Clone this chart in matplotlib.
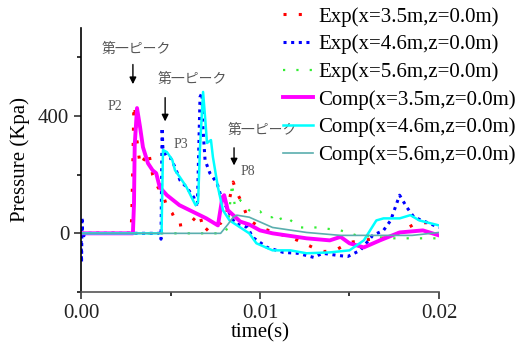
import matplotlib
matplotlib.use('Agg')
import matplotlib.pyplot as plt
from matplotlib.ticker import MultipleLocator, FormatStrFormatter

plt.rcParams['font.family'] = ['Liberation Serif', 'Noto Sans CJK JP']

# Exp (x=3.5m)
t_exp35 = [0, 0.0028, 0.00285, 0.0029, 0.00295, 0.0030, 0.00305, 0.0031, 0.0033, 0.0035,
           0.0037, 0.0038, 0.0040, 0.0043, 0.0046, 0.0048, 0.0051, 0.0054, 0.0061, 0.0066,
           0.0069, 0.0073, 0.0078, 0.0081, 0.0085, 0.0087, 0.0090, 0.0093, 0.0096, 0.0100,
           0.0108, 0.0117, 0.0121, 0.0132, 0.0136, 0.0142, 0.0150, 0.0162, 0.0173, 0.0187,
           0.0195, 0.0200]
p_exp35 = [0, 0, 100, 250, 430, 437, 376, 330, 232, 250,
           277, 270, 200, 157, 130, 89, 68, 27, 34, 68,
           5, 30, 34, 60, 175, 140, 103, 55, 37, 20,
           3, -14, -24, -55, -62, -58, -31, -20, -14, 34,
           37, 30]

# Exp (x=4.6m)
t_exp46 = [0, 0.00003, 0.00006, 0.0001, 0.0002, 0.0044, 0.00447, 0.00453, 0.00458, 0.0048,
           0.0050, 0.00525, 0.00553, 0.0059, 0.0063, 0.0065, 0.00665, 0.00676, 0.00682, 0.00693,
           0.0072, 0.0076, 0.0078, 0.0082, 0.0086, 0.0093, 0.0096, 0.0104, 0.0113, 0.0121,
           0.0130, 0.0135, 0.0143, 0.0149, 0.0156, 0.0163, 0.0169, 0.0173, 0.0177, 0.0178,
           0.0182, 0.0186, 0.0193, 0.0200]
p_exp46 = [0, -100, 55, -20, 0, 0, -20, 360, 284, 260,
           257, 226, 181, 157, 123, 89, 465, 479, 352, 250,
           205, 171, 130, 79, 34, 20, -14, -48, -65, -68,
           -82, -68, -75, -79, -58, -7, 10, 44, 113, 130,
           89, 55, 38, 20]

# Exp (x=5.6m)
t_exp56 = [0, 0.0080, 0.0082, 0.00844, 0.0086, 0.0089, 0.0092, 0.0096, 0.0100, 0.0103,
           0.0107, 0.0110, 0.0112, 0.0115, 0.0122, 0.0132, 0.0145, 0.0154, 0.0173, 0.0191,
           0.0200]
p_exp56 = [0, 0, 20, 171, 89, 113, 89, 68, 75, 55,
           55, 68, 45, 55, 20, 20, 10, -7, -17, -17,
           -17]

# Comp (x=3.5m)
t_comp35 = [0, 0.0029, 0.00296, 0.0030, 0.00313, 0.0033, 0.00346, 0.00374, 0.0040, 0.0042,
            0.0044, 0.0048, 0.0055, 0.0063, 0.0070, 0.00765, 0.0079, 0.0080, 0.0082, 0.0089,
            0.0094, 0.0100, 0.0107, 0.0126, 0.0139, 0.0145, 0.0150, 0.0158, 0.0167, 0.0178,
            0.0191, 0.0200]
p_comp35 = [0, 0, 100, 300, 427, 362, 294, 239, 215, 205,
            157, 130, 96, 72, 51, 27, 123, 130, 79, 40,
            30, 10, 0, -17, -24, -12, -34, -48, -24, 3,
            10, -7]

# Comp (x=4.6m)
t_comp46 = [0, 0.0045, 0.00458, 0.0048, 0.0051, 0.00525, 0.00553, 0.0059, 0.0062, 0.0064,
            0.00654, 0.00665, 0.00682, 0.00693, 0.00704, 0.00726, 0.00737, 0.00765, 0.00793, 0.0083,
            0.0089, 0.0094, 0.0098, 0.0107, 0.0117, 0.0126, 0.0139, 0.0150, 0.0158, 0.0165,
            0.0169, 0.0178, 0.0184, 0.0189, 0.0200]
p_comp46 = [0, 0, 284, 277, 250, 215, 191, 157, 120, 96,
            106, 294, 482, 397, 308, 318, 260, 157, 79, 44,
            20, 0, -34, -58, -58, -68, -65, -58, -24, 44,
            51, 51, 62, 44, 27]

# Comp (x=5.6m)
t_comp56 = [0, 0.0078, 0.0082, 0.0085, 0.0087, 0.0094, 0.0107, 0.0126, 0.0145, 0.0165,
            0.0185, 0.0200]
p_comp56 = [0, 0, 30, 55, 62, 55, 20, 3, -7, -7,
            -7, 3]

fig = plt.figure(figsize=(5.19, 3.42), dpi=100)
ax = fig.add_axes([81/519, 1-292/342, 358/519, 264/342])

ax.plot(t_exp35, p_exp35, color='#ff0000', lw=2.2, linestyle=(0, (1, 4)), label='Exp(x=3.5m,z=0.0m)')
ax.plot(t_exp46, p_exp46, color='#0000ff', lw=2.2, linestyle=(0, (1, 1.5)), label='Exp(x=4.6m,z=0.0m)')
ax.plot(t_exp56, p_exp56, color='#33ee33', lw=1.6, linestyle=(0, (1, 5)), label='Exp(x=5.6m,z=0.0m)')
ax.plot(t_comp35, p_comp35, color='#ff00ff', lw=2.8, label='Comp(x=3.5m,z=0.0m)')
ax.plot(t_comp46, p_comp46, color='#00ffff', lw=1.8, label='Comp(x=4.6m,z=0.0m)')
ax.plot(t_comp56, p_comp56, color='#5aaeae', lw=1.2, label='Comp(x=5.6m,z=0.0m)')

ax.set_xlim(0, 0.02)
ax.set_ylim(-200, 700)
ax.xaxis.set_major_locator(MultipleLocator(0.01))
ax.xaxis.set_minor_locator(MultipleLocator(0.005))
ax.yaxis.set_major_locator(MultipleLocator(400))
ax.yaxis.set_minor_locator(MultipleLocator(200))
ax.xaxis.set_major_formatter(FormatStrFormatter('%.2f'))
ax.tick_params(which='major', direction='out', length=5, width=1.1, labelsize=15, colors='#222222')
ax.tick_params(which='minor', direction='out', length=3, width=1.1)
for s in ['top', 'right']:
    ax.spines[s].set_visible(False)
ax.spines['left'].set_linewidth(1.2)
ax.spines['bottom'].set_linewidth(1.2)
ax.spines['bottom'].set_color('#555555')

ax.set_xlabel('time(s)', fontsize=15, labelpad=0)
ax.set_ylabel('Pressure (Kpa)', fontsize=15, labelpad=6)

# annotations
ann = dict(fontsize=10, color='#555555', ha='center', va='center')
ax.text(0.00307, 626, '第一ピーク', **ann)
ax.text(0.0062, 523, '第一ピーク', **ann)
ax.text(0.0101, 352, '第一ピーク', **ann)
ax.text(0.0019, 431, 'P2', **ann)
ax.text(0.0056, 304, 'P3', **ann)
ax.text(0.0093, 212, 'P8', **ann)
arr = dict(arrowstyle='-|>', color='black', lw=1, mutation_scale=10)
ax.annotate('', xy=(0.0029, 499), xytext=(0.0029, 585), arrowprops=arr)
ax.annotate('', xy=(0.00470, 372), xytext=(0.00470, 472), arrowprops=arr)
ax.annotate('', xy=(0.00855, 222), xytext=(0.00855, 301), arrowprops=arr)

fig.legend(loc='upper left', bbox_to_anchor=(283/519, 1-7/342), frameon=False,
           fontsize=15, handlelength=1.45, handletextpad=0.25, labelspacing=0.38,
           borderpad=0, borderaxespad=0)

fig.savefig('out.png', dpi=100)
